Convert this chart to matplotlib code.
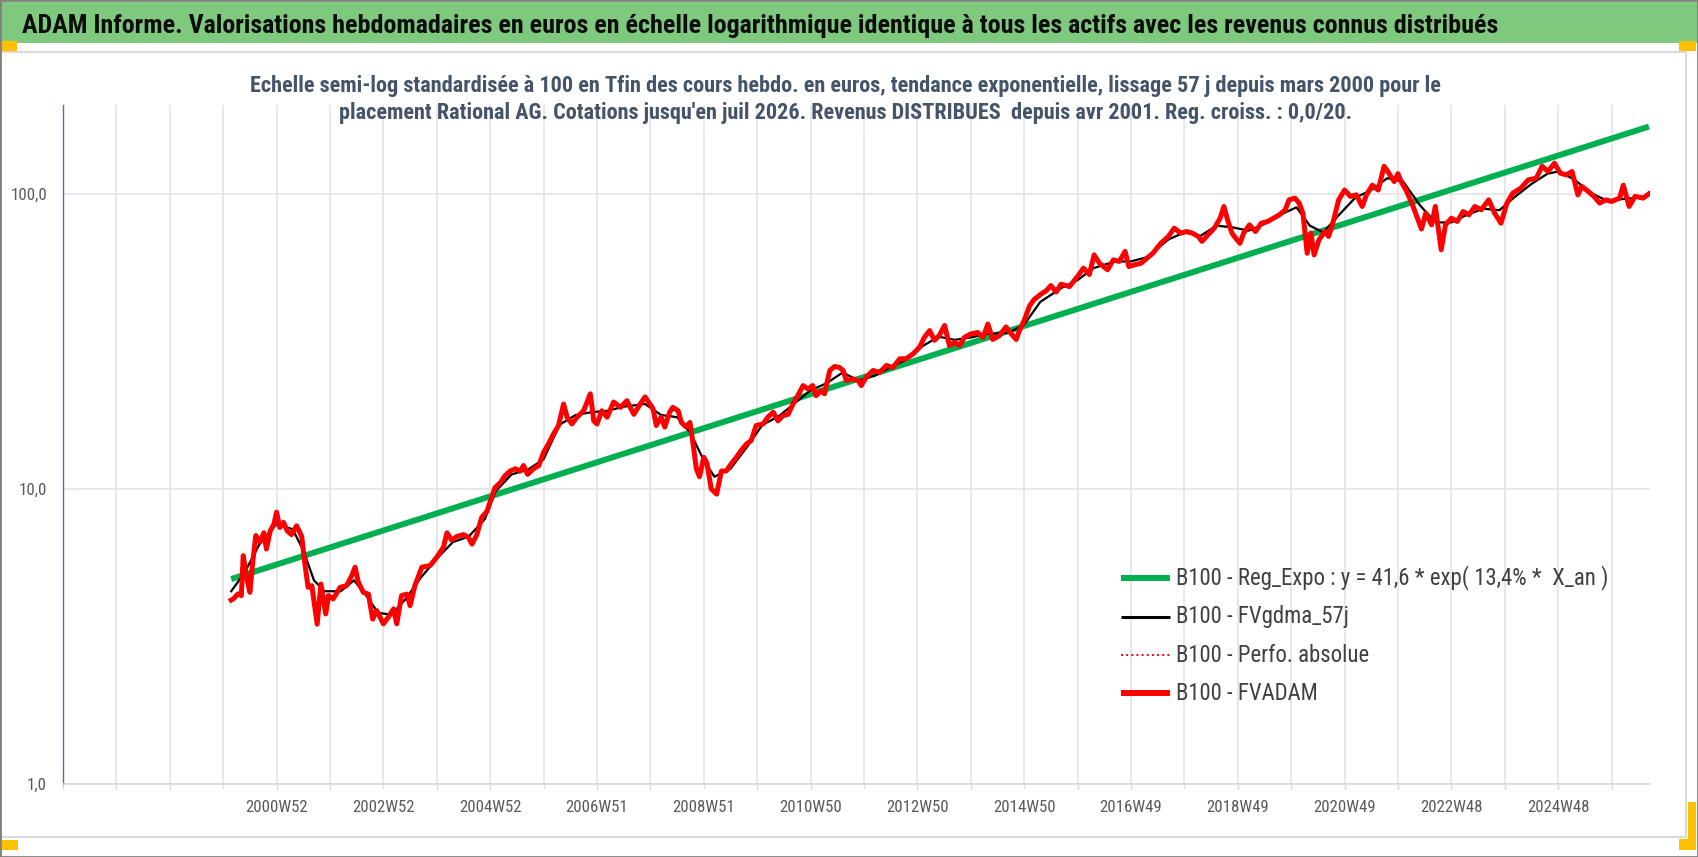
import os
import matplotlib
matplotlib.use('Agg')
import matplotlib.pyplot as plt
from matplotlib import font_manager as fm
from matplotlib.lines import Line2D
from matplotlib.patches import Rectangle

# ---------------- data ----------------
title = ("ADAM Informe. Valorisations hebdomadaires en euros en échelle logarithmique "
         "identique à tous les actifs avec les revenus connus distribués")
subtitle1 = ("Echelle semi-log standardisée à 100 en Tfin des cours hebdo. en euros, tendance "
             "exponentielle, lissage 57 j depuis mars 2000 pour le")
subtitle2 = ("placement Rational AG. Cotations jusqu'en juil 2026. Revenus DISTRIBUES  depuis "
             "avr 2001. Reg. croiss. : 0,0/20.")

x_tick_pos = [2001, 2003, 2005, 2007, 2009, 2011, 2013, 2015, 2017, 2019, 2021, 2023, 2025]
x_tick_labels = ["2000W52", "2002W52", "2004W52", "2006W51", "2008W51", "2010W50", "2012W50",
                 "2014W50", "2016W49", "2018W49", "2020W49", "2022W48", "2024W48"]
y_ticks = [1, 10, 100]
y_tick_labels = ["1,0", "10,0", "100,0"]

legend_labels = ["B100 - Reg_Expo : y = 41,6 * exp( 13,4% *  X_an )",
                 "B100 - FVgdma_57j",
                 "B100 - Perfo. absolue",
                 "B100 - FVADAM"]

# trend line (exponential regression) end points
reg_t = [2000.15, 2026.70]
reg_v = [4.95, 169.0]

# FVADAM weekly series (sampled)
fv_t = [2000.15, 2000.19, 2000.28, 2000.34, 2000.375, 2000.44, 2000.50, 2000.55, 2000.61, 2000.69,
        2000.76, 2000.81, 2000.88, 2000.95, 2001.00, 2001.06, 2001.13, 2001.20, 2001.28, 2001.375,
        2001.47, 2001.53, 2001.59, 2001.66, 2001.76, 2001.83, 2001.92, 2001.97, 2002.06, 2002.19,
        2002.31, 2002.41, 2002.47, 2002.53, 2002.625, 2002.72, 2002.80, 2002.875, 2003.00, 2003.09,
        2003.19, 2003.25, 2003.34, 2003.44, 2003.50, 2003.59, 2003.72, 2003.875, 2004.00, 2004.125,
        2004.19, 2004.28, 2004.375, 2004.50, 2004.59, 2004.66, 2004.75, 2004.84, 2004.94, 2005.03,
        2005.09, 2005.19, 2005.28, 2005.375, 2005.47, 2005.56, 2005.625, 2005.70, 2005.81, 2005.91,
        2006.00, 2006.09, 2006.19, 2006.28, 2006.375, 2006.44, 2006.53, 2006.625, 2006.75, 2006.875,
        2006.94, 2007.00, 2007.09, 2007.19, 2007.31, 2007.44, 2007.56, 2007.69, 2007.81, 2007.90,
        2008.05, 2008.11, 2008.20, 2008.27, 2008.36, 2008.42, 2008.52, 2008.58, 2008.67, 2008.74,
        2008.80, 2008.86, 2008.92, 2009.00, 2009.06, 2009.14, 2009.24, 2009.33, 2009.42, 2009.52,
        2009.61, 2009.70, 2009.80, 2009.89, 2009.98, 2010.11, 2010.20, 2010.30, 2010.39, 2010.48,
        2010.58, 2010.67, 2010.76, 2010.86, 2010.95, 2011.04, 2011.10, 2011.20, 2011.26, 2011.36,
        2011.45, 2011.54, 2011.61, 2011.67, 2011.79, 2011.89, 2011.95, 2012.04, 2012.17, 2012.29,
        2012.42, 2012.54, 2012.67, 2012.79, 2012.92, 2013.04, 2013.13, 2013.23, 2013.32, 2013.41,
        2013.51, 2013.60, 2013.70, 2013.79, 2013.88, 2014.00, 2014.13, 2014.23, 2014.32, 2014.41,
        2014.54, 2014.66, 2014.76, 2014.85, 2014.91, 2015.00, 2015.10, 2015.19, 2015.32, 2015.41,
        2015.50, 2015.60, 2015.69, 2015.85, 2016.00, 2016.11, 2016.22, 2016.31, 2016.41, 2016.56,
        2016.67, 2016.78, 2016.89, 2016.96, 2017.07, 2017.19, 2017.30, 2017.41, 2017.56, 2017.70,
        2017.81, 2017.93, 2018.04, 2018.15, 2018.26, 2018.33, 2018.44, 2018.56, 2018.67, 2018.74,
        2018.81, 2018.89, 2018.96, 2019.04, 2019.11, 2019.22, 2019.33, 2019.44, 2019.56, 2019.67,
        2019.78, 2019.89, 2019.96, 2020.07, 2020.15, 2020.22, 2020.30, 2020.37, 2020.43, 2020.52,
        2020.63, 2020.70, 2020.78, 2020.89, 2021.00, 2021.11, 2021.22, 2021.33, 2021.41, 2021.52,
        2021.63, 2021.74, 2021.81, 2021.93, 2022.00, 2022.07, 2022.15, 2022.26, 2022.33, 2022.44,
        2022.52, 2022.63, 2022.70, 2022.81, 2022.89, 2023.00, 2023.11, 2023.22, 2023.33, 2023.44,
        2023.56, 2023.70, 2023.81, 2023.93, 2024.04, 2024.15, 2024.30, 2024.44, 2024.59, 2024.70,
        2024.81, 2024.93, 2025.04, 2025.15, 2025.26, 2025.37, 2025.44, 2025.56, 2025.67, 2025.78,
        2025.89, 2026.00, 2026.15, 2026.22, 2026.33, 2026.44, 2026.59, 2026.70]
fv_v = [4.20, 4.24, 4.41, 4.35, 5.94, 5.00, 4.46, 5.57, 6.95, 6.60,
        7.10, 6.26, 7.20, 7.60, 8.34, 7.40, 7.70, 7.20, 7.00, 7.50,
        6.90, 5.57, 4.64, 4.70, 3.48, 4.76, 3.77, 4.35, 4.24, 4.64,
        4.70, 5.09, 5.43, 4.83, 4.46, 4.40, 3.62, 3.87, 3.49, 3.67,
        3.92, 3.49, 4.35, 4.40, 4.02, 4.70, 5.43, 5.50, 5.87, 6.35,
        7.10, 6.70, 6.90, 7.00, 6.86, 6.50, 7.00, 8.00, 8.40, 9.40,
        10.1, 10.5, 11.1, 11.5, 11.7, 11.5, 12.0, 11.2, 11.7, 12.0,
        13.3, 14.2, 15.4, 16.4, 19.4, 17.5, 16.6, 17.5, 18.4, 21.0,
        17.0, 16.6, 18.4, 17.5, 19.7, 18.9, 19.9, 17.9, 19.4, 20.5,
        18.7, 16.4, 17.5, 16.2, 18.2, 18.9, 18.4, 16.8, 16.2, 16.8,
        14.2, 11.7, 11.0, 12.8, 12.2, 10.0, 9.6, 11.5, 11.5, 12.2,
        12.8, 13.5, 14.2, 14.6, 16.4, 16.6, 17.5, 18.2, 17.0, 17.7,
        17.9, 19.4, 20.7, 22.4, 21.8, 22.4, 20.7, 21.5, 21.0, 25.2,
        26.0, 25.8, 25.2, 23.3, 23.6, 23.3, 22.4, 23.9, 25.2, 24.8,
        26.2, 25.8, 27.6, 27.6, 28.7, 30.2, 32.6, 34.4, 31.9, 33.1,
        35.8, 30.6, 31.4, 30.6, 32.6, 33.5, 33.9, 32.6, 36.2, 32.1,
        33.1, 35.4, 33.5, 32.1, 34.4, 37.2, 41.7, 43.9, 45.8, 46.9,
        48.9, 46.5, 49.4, 48.5, 52.5, 56.0, 53.3, 62.1, 58.2, 55.3,
        59.7, 59.0, 63.8, 56.7, 57.5, 58.2, 60.5, 62.9, 68.0, 71.7,
        76.5, 73.6, 74.5, 73.6, 71.7, 69.0, 72.6, 76.5, 82.7, 90.6,
        81.6, 73.6, 70.8, 68.0, 73.6, 78.5, 74.5, 79.5, 80.6, 82.7,
        84.9, 88.3, 95.4, 96.7, 93.0, 86.0, 62.9, 73.6, 62.1, 69.8,
        74.5, 71.7, 79.5, 95.4, 103.0, 98.0, 99.2, 90.6, 99.2, 107.0,
        103.0, 124.0, 119.0, 110.0, 117.0, 109.0, 103.0, 93.0, 86.0, 76.0,
        86.0, 78.5, 90.6, 64.6, 78.5, 82.7, 80.6, 87.1, 84.9, 90.6,
        88.3, 95.4, 86.0, 79.5, 93.0, 100.5, 104.5, 111.5, 113.0, 124.0,
        119.0, 127.0, 117.5, 116.0, 119.0, 99.2, 106.0, 102.0, 98.0, 93.0,
        95.4, 94.2, 96.7, 107.0, 90.6, 98.0, 96.7, 100.0]

# 57-day smoothed series (sampled)
ma_t = [2000.15, 2000.40, 2000.70, 2001.00, 2001.30, 2001.50, 2001.70, 2001.90, 2002.20, 2002.45,
        2002.70, 2002.90, 2003.15, 2003.40, 2003.70, 2004.00, 2004.30, 2004.60, 2004.90, 2005.10,
        2005.40, 2005.70, 2006.00, 2006.30, 2006.60, 2006.90, 2007.20, 2007.50, 2007.90, 2008.20,
        2008.50, 2008.75, 2009.00, 2009.20, 2009.50, 2009.80, 2010.10, 2010.40, 2010.70, 2011.00,
        2011.30, 2011.60, 2011.90, 2012.20, 2012.50, 2012.80, 2013.10, 2013.40, 2013.70, 2014.00,
        2014.30, 2014.70, 2015.00, 2015.30, 2015.70, 2016.00, 2016.30, 2016.70, 2017.00, 2017.30,
        2017.70, 2018.00, 2018.30, 2018.60, 2018.90, 2019.20, 2019.50, 2019.80, 2020.10, 2020.35,
        2020.60, 2020.90, 2021.20, 2021.50, 2021.80, 2022.10, 2022.40, 2022.70, 2023.00, 2023.30,
        2023.60, 2023.90, 2024.20, 2024.50, 2024.80, 2025.00, 2025.30, 2025.60, 2025.90, 2026.20,
        2026.50, 2026.70]
ma_v = [4.5, 5.2, 6.6, 7.6, 7.3, 6.2, 4.9, 4.5, 4.5, 4.9,
        4.3, 3.8, 3.75, 4.2, 5.0, 5.8, 6.6, 6.9, 7.9, 9.8,
        11.2, 11.6, 12.6, 16.5, 17.8, 18.2, 18.4, 19.0, 19.4, 17.8,
        17.5, 15.5, 12.5, 11.0, 11.7, 13.8, 16.5, 17.6, 19.5, 21.6,
        22.8, 24.8, 23.3, 24.2, 25.8, 27.5, 30.5, 32.8, 32.0, 32.6,
        33.5, 33.8, 36.0, 43.0, 48.0, 51.0, 56.0, 59.0, 59.0, 61.0,
        70.0, 74.0, 72.0, 78.0, 77.0, 75.0, 79.0, 85.0, 90.0, 78.0,
        74.0, 85.0, 97.0, 103.0, 113.0, 110.0, 92.0, 80.0, 80.0, 85.0,
        89.0, 88.0, 98.0, 108.0, 117.0, 119.0, 112.0, 101.0, 95.0, 96.0,
        97.0, 99.0]


# ---------------- fonts: look for a narrow sans (Calibri-like) ----------------
def find_narrow(bold):
    prefs = ['liberationsansnarrow', 'opensans', 'notosans', 'roboto', 'dejavusans', 'lato', 'inter']
    best = None
    for f in fm.fontManager.ttflist:
        b = os.path.basename(f.fname).lower()
        if not ('narrow' in b or 'condensed' in b):
            continue
        if any(k in b for k in ('mono', 'serif', 'italic', 'oblique', 'cjk', 'semicond', 'extracond',
                                'ultracond')):
            continue
        if bold:
            if 'bold' not in b or any(k in b for k in ('semibold', 'extrabold', 'ultrabold')):
                continue
        else:
            if any(k in b for k in ('bold', 'light', 'thin', 'black', 'medium', 'heavy', 'semi',
                                    'extra', 'ultra')):
                continue
        rank = len(prefs)
        for i, p in enumerate(prefs):
            if b.replace('-', '').replace('_', '').startswith(p):
                rank = i
                break
        if best is None or rank < best[0]:
            best = (rank, f.fname)
    if best:
        return fm.FontProperties(fname=best[1])
    return fm.FontProperties(family=['Liberation Sans', 'DejaVu Sans'],
                             weight='bold' if bold else 'normal')


FP_REG = find_narrow(False)
FP_BOLD = find_narrow(True)


def fp(base, size):
    p = base.copy()
    p.set_size(size)
    return p


# ---------------- figure ----------------
W, H = 1698, 857
fig = plt.figure(figsize=(W / 100, H / 100), dpi=100)
fig.patch.set_facecolor('white')
renderer = fig.canvas.get_renderer()


def fx(px):
    return px / W


def fy(py):
    return 1 - py / H


def fit(txt, target):
    for _ in range(3):
        w = txt.get_window_extent(renderer).width
        txt.set_fontsize(txt.get_fontsize() * target / w)
    return txt.get_fontsize()


def size_for(s, base, target):
    t = fig.text(0, 0, s, fontproperties=fp(base, 12))
    size = fit(t, target)
    t.remove()
    return size


# title bar
fig.patches.append(Rectangle((0, fy(43)), 1, 41 / H, transform=fig.transFigure,
                             facecolor='#7FC97F', edgecolor='none', zorder=0))
t_title = fig.text(fx(22), fy(33), title, fontproperties=fp(FP_BOLD, 18), color='#0D0D0D',
                   ha='left', va='baseline')
fit(t_title, 1474)

# chart area border
fig.patches.append(Rectangle((fx(-2), fy(837)), fx(1688), (837 - 52) / H, transform=fig.transFigure,
                             facecolor='none', edgecolor='#D9D9D9', lw=1.5, zorder=0))
# selection handles
for (x0, y0, w, h) in [(0, 41, 17, 10), (1679, 41, 17, 10), (0, 840, 18, 10),
                       (1679, 839, 17, 11), (1688, 802, 8, 48)]:
    fig.patches.append(Rectangle((fx(x0), fy(y0 + h)), w / W, h / H, transform=fig.transFigure,
                                 facecolor='#FFC000', edgecolor='none', zorder=1))
# outer border
fig.patches.append(Rectangle((0, 0), 1, 1, transform=fig.transFigure, facecolor='none',
                             edgecolor='#808080', lw=2, zorder=2))

# subtitle
sub_color = '#44546A'
t_s1 = fig.text(fx(845), fy(92), subtitle1, fontproperties=fp(FP_BOLD, 13), color=sub_color,
                ha='center', va='baseline')
s_size = fit(t_s1, 1196)
t_s2 = fig.text(fx(846), fy(119), subtitle2, fontproperties=fp(FP_BOLD, s_size), color=sub_color,
                ha='center', va='baseline')

# axes
ax = fig.add_axes([fx(63), fy(784), fx(1650 - 63), (784 - 105) / H])
ax.set_facecolor('none')
ax.set_yscale('log')
ax.set_ylim(1, 200)
ax.set_xlim(1997.0, 2026.72)

grid_col = '#E1E4EA'
xl_size = size_for("2000W52", FP_REG, 62)
yl_size = size_for("100,0", FP_REG, 36)

ax.set_xticks(x_tick_pos)
ax.set_xticklabels(x_tick_labels, fontproperties=fp(FP_REG, xl_size), color='#595959')
ax.set_xticks(list(range(1997, 2027)), minor=True)
ax.tick_params(axis='x', which='both', length=3.8, color='#D9D9D9', width=1)
ax.tick_params(axis='x', which='major', pad=8)
ax.set_yticks(y_ticks)
ax.set_yticklabels(y_tick_labels, fontproperties=fp(FP_REG, yl_size), color='#595959')
ax.yaxis.set_minor_locator(matplotlib.ticker.NullLocator())
ax.tick_params(axis='y', which='both', length=0, pad=11.5)
ax.grid(True, which='major', axis='y', color=grid_col, lw=1.2, zorder=0)
ax.grid(True, which='both', axis='x', color=grid_col, lw=1.2, zorder=0)

for s in ['top', 'right']:
    ax.spines[s].set_visible(False)
ax.spines['left'].set_color('#4472C4')
ax.spines['left'].set_linewidth(1)
ax.spines['bottom'].set_color('#D9D9D9')
ax.spines['bottom'].set_linewidth(1.2)

ax.plot(reg_t, reg_v, color='#00B050', lw=4.3, solid_capstyle='butt', zorder=3)
ax.plot(ma_t, ma_v, color='black', lw=1.6, zorder=4)
ax.plot(fv_t, fv_v, color='#FF0000', lw=1.2, ls=':', zorder=4)
ax.plot(fv_t, fv_v, color='#FF0000', lw=3.6, solid_joinstyle='round', zorder=5)

# legend (drawn in figure pixels to match the reference layout)
leg_styles = [dict(color='#00B050', lw=4.3), dict(color='black', lw=2.2),
              dict(color='#FF0000', lw=1.4, ls=':'), dict(color='#FF0000', lw=4.3)]
leg_rows = [578, 617, 655, 693]
leg_size = size_for(legend_labels[0], FP_REG, 433)
for lab, st, ry in zip(legend_labels, leg_styles, leg_rows):
    fig.add_artist(Line2D([fx(1121), fx(1170)], [fy(ry), fy(ry)], transform=fig.transFigure,
                          solid_capstyle='butt', **st))
    fig.text(fx(1176), fy(ry), lab, fontproperties=fp(FP_REG, leg_size), color='#404040',
             ha='left', va='center')

fig.savefig('out.png', dpi=100, facecolor='white')
